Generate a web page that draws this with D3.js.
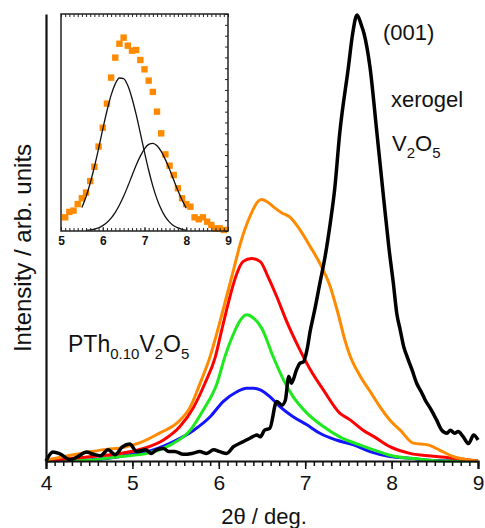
<!DOCTYPE html>
<html>
<head>
<meta charset="utf-8">
<script src="https://cdnjs.cloudflare.com/ajax/libs/d3/7.8.5/d3.min.js"></script>
<style>
  body { margin: 0; background: #fff; }
  text { font-family: "Liberation Sans", Arial, sans-serif; fill: #111; }
</style>
</head>
<body>
<div id="chart"></div>
<script>
// XRD patterns as [2theta, intensity] pairs

var xerogelPts = [[4.00,0],[4.08,2.0],[4.16,1.6],[4.28,0.3],[4.36,0.9],[4.47,2.0],[4.55,1.5],[4.63,1.2],
  [4.72,2.5],[4.80,1.4],[4.88,3.1],[4.97,3.8],[5.05,2.1],[5.15,2.5],[5.22,1.7],[5.28,2.5],[5.36,2.8],
  [5.42,2.1],[5.49,2.1],[5.59,1.5],[5.69,1.7],[5.78,2.1],[5.86,1.7],[5.94,2.5],[6.01,2.1],[6.09,1.7],
  [6.17,3.2],[6.28,4.3],[6.36,5.1],[6.44,5.8],[6.48,5.4],[6.53,6.9],[6.59,7.3],[6.67,13.3],[6.73,12.5],
  [6.77,13.6],[6.81,18.9],[6.84,17.4],[6.90,20.4],[6.94,21.9],[6.98,22.2],[7.02,24.8],[7.06,29.3],
  [7.11,33.8],[7.17,39.8],[7.23,45.7],[7.29,53.2],[7.34,60.6],[7.40,73.4],[7.50,88.1],[7.55,95.7],
  [7.60,99.8],[7.65,97.5],[7.68,95.7],[7.75,88.1],[7.83,73.4],[7.91,58.4],[7.97,47.5],[8.02,39.8],
  [8.06,33.0],[8.10,29.3],[8.14,25.6],[8.19,22.8],[8.24,20.2],[8.29,17.4],[8.34,15.6],[8.39,13.6],[8.46,11.4],
  [8.52,9.2],[8.58,6.9],[8.64,6.2],[8.68,6.9],[8.73,6.2],[8.77,6.6],[8.83,5.4],[8.89,3.9],[8.95,5.8],[9.00,4.7]];

var orangePts = [[4.00,0.2],[4.24,1.1],[4.50,2.0],[4.70,2.6],[4.86,2.9],[5.09,4.1],[5.32,6.3],[5.51,8.4],
  [5.67,12.1],[5.78,17.2],[5.90,23.4],[5.99,29.5],[6.09,36.8],[6.17,42.7],[6.25,48.7],[6.36,54.7],
  [6.46,58.2],[6.50,58.5],[6.56,58.0],[6.63,56.9],[6.73,55.5],[6.82,54.6],[6.94,51.7],[7.06,47.9],
  [7.17,44.2],[7.29,39.0],[7.38,33.0],[7.46,27.0],[7.52,23.5],[7.63,19.2],[7.75,15.6],[7.87,12.0],
  [8.00,8.7],[8.10,6.9],[8.25,4.0],[8.42,3.6],[8.56,2.4],[8.71,1.0],[8.87,0.3],[9.00,0]];

var redPts = [[4.00,0],[4.32,0.6],[4.60,1.1],[4.86,1.7],[5.13,2.8],[5.36,4.7],[5.55,7.7],[5.71,12.1],
  [5.84,17.4],[5.96,23.3],[6.03,29.0],[6.09,33.8],[6.15,38.3],[6.21,42.0],[6.28,44.6],[6.38,45.3],
  [6.48,44.6],[6.57,41.2],[6.67,36.8],[6.79,31.0],[6.94,24.8],[7.06,20.4],[7.21,15.9],[7.40,10.7],
  [7.52,9.2],[7.67,6.9],[7.80,5.4],[7.98,3.2],[8.21,1.7],[8.52,1.0],[8.83,0.4],[9.00,0]];

var greenPts = [[4.00,0],[4.50,0.2],[4.86,1.0],[5.17,1.7],[5.44,3.6],[5.67,6.9],[5.82,11.4],[5.98,17.4],
  [6.07,23.3],[6.19,29.3],[6.25,31.5],[6.32,32.7],[6.40,32.0],[6.50,29.6],[6.63,23.3],[6.75,18.1],
  [6.86,14.4],[7.02,10.7],[7.21,7.7],[7.40,5.4],[7.63,3.6],[7.79,2.5],[7.98,1.3],[8.33,0.4],[8.60,0],[9.00,0]];

var bluePts = [[4.00,0],[4.50,0.2],[4.86,1.0],[5.01,1.6],[5.24,2.5],[5.47,4.3],[5.71,6.9],[5.90,9.9],
  [6.05,13.3],[6.21,15.5],[6.32,16.3],[6.40,16.3],[6.48,15.9],[6.59,14.4],[6.71,12.1],[6.86,9.9],
  [7.02,8.1],[7.17,6.2],[7.36,4.7],[7.56,3.6],[7.75,2.1],[7.98,1.0],[8.21,0.6],[8.52,0.1],[9.00,0]];

// inset: measured points and the two fitted peaks
var insetX = [5.1,5.2,5.3,5.4,5.5,5.6,5.7,5.8,5.9,6.0,6.1,6.2,6.3,6.4,6.5,6.6,6.7,6.8,6.9,7.0,
  7.1,7.2,7.3,7.4,7.5,7.6,7.7,7.8,7.9,8.0,8.1,8.2,8.3,8.4,8.5,8.6,8.7,8.8,8.9];
var insetY = [6.3,8.8,9.4,12.4,15.1,17.7,23.0,29.6,38.9,47.6,58.7,70.7,79.9,86.3,89.1,85.4,83.1,83.4,78.8,74.5,
  69.3,64.1,55.0,45.0,35.3,30.1,25.8,19.7,15.1,12.4,11.2,6.3,5.4,6.3,4.3,2.8,1.2,1.2,0.5];

var fit1Pts = [[5.5,10.8],[5.6,15.8],[5.7,22.1],[5.8,29.6],[5.9,38.0],[6.0,46.9],[6.1,55.3],[6.2,62.6],
  [6.3,67.8],[6.4,70.5],[6.5,70.2],[6.6,67.0],[6.7,61.2],[6.8,53.7],[6.9,45.1],[7.0,36.3],[7.1,28.0],
  [7.2,20.7],[7.3,14.7],[7.4,10.0],[7.5,6.5],[7.6,4.1],[7.7,2.4],[7.8,1.4],[7.9,0.8],[8.0,0.4]];

var fit2Pts = [[5.6,0.3],[5.7,0.5],[5.8,0.9],[5.9,1.5],[6.0,2.5],[6.1,3.9],[6.2,5.9],[6.3,8.6],[6.4,12.0],
  [6.5,16.0],[6.6,20.6],[6.7,25.5],[6.8,30.3],[6.9,34.5],[7.0,37.9],[7.1,39.9],[7.2,40.4],[7.3,39.3],
  [7.4,36.7],[7.5,32.9],[7.6,28.4],[7.7,23.5],[7.8,18.7],[7.9,14.3],[8.0,10.5]];

var xTicks = [4, 5, 6, 7, 8, 9];
var insetTicks = [5, 6, 7, 8, 9];

var width = 485;
var height = 528;

var svg = d3.select("#chart")
  .append("svg")
  .attr("width", width)
  .attr("height", height);

// main scales
var xScale = d3.scaleLinear().domain([4, 9]).range([46, 478]);
var yScale = d3.scaleLinear().domain([0, 100]).range([461, 14]);

var line = d3.line()
  .x(function(d) { return xScale(d[0]); })
  .y(function(d) { return yScale(d[1]); })
  .curve(d3.curveMonotoneX);

// draw order: blue, green, red, orange, then black on top
var series = [
  { pts: bluePts, color: "#1414ff", w: 3 },
  { pts: greenPts, color: "#1ee81e", w: 3 },
  { pts: redPts, color: "#ff0000", w: 3 },
  { pts: orangePts, color: "#ff8a00", w: 3 },
  { pts: xerogelPts, color: "#000000", w: 3.5 }
];

series.forEach(function(s) {
  svg.append("path")
    .datum(s.pts)
    .attr("d", line)
    .attr("fill", "none")
    .attr("stroke", s.color)
    .attr("stroke-width", s.w)
    .attr("stroke-linejoin", "round");
});

// x axis: minor ticks every 0.1, major at integers
var minorAxis = d3.axisBottom(xScale)
  .tickValues(d3.range(40, 91).map(function(d) { return d / 10; }))
  .tickSize(5)
  .tickFormat("");
svg.append("g")
  .attr("class", "minor")
  .attr("transform", "translate(0,461)")
  .call(minorAxis);

var majorAxis = d3.axisBottom(xScale)
  .tickValues(xTicks)
  .tickSize(8)
  .tickPadding(6)
  .tickFormat(d3.format("d"));
svg.append("g")
  .attr("class", "major")
  .attr("transform", "translate(0,461)")
  .call(majorAxis);

svg.selectAll(".minor line, .major line").attr("stroke", "#111").attr("stroke-width", 1.5);
svg.selectAll(".major .domain").attr("stroke", "#111").attr("stroke-width", 2.2);
svg.selectAll(".minor .domain").remove();
svg.selectAll(".major text")
  .style("font-size", "21px")
  .style("font-family", "'Liberation Sans', Arial, sans-serif")
  .attr("fill", "#111");

// left axis line only
svg.append("g")
  .attr("transform", "translate(46,0)")
  .call(d3.axisLeft(yScale).tickValues([]).tickSizeOuter(0))
  .select(".domain")
  .attr("stroke", "#111")
  .attr("stroke-width", 2.2);

// axis titles
svg.append("text")
  .attr("x", 264)
  .attr("y", 524)
  .attr("text-anchor", "middle")
  .style("font-size", "22px")
  .text("2\u03B8 / deg.");

svg.append("text")
  .attr("transform", "translate(31,248)rotate(-90)")
  .attr("text-anchor", "middle")
  .style("font-size", "24px")
  .text("Intensity / arb. units");

// annotations
svg.append("text").attr("x", 383).attr("y", 40).style("font-size", "22px").text("(001)");
svg.append("text").attr("x", 391).attr("y", 107).style("font-size", "22px").text("xerogel");

var v2o5 = svg.append("text").attr("x", 392).attr("y", 151).style("font-size", "22px");
v2o5.append("tspan").text("V");
v2o5.append("tspan").attr("dy", 7).style("font-size", "15px").text("2");
v2o5.append("tspan").attr("dy", -7).text("O");
v2o5.append("tspan").attr("dy", 7).style("font-size", "15px").text("5");

var pth = svg.append("text").attr("x", 68).attr("y", 352).style("font-size", "23px");
pth.append("tspan").text("PTh");
pth.append("tspan").attr("dy", 7).style("font-size", "15px").text("0.10");
pth.append("tspan").attr("dy", -7).text("V");
pth.append("tspan").attr("dy", 7).style("font-size", "15px").text("2");
pth.append("tspan").attr("dy", -7).text("O");
pth.append("tspan").attr("dy", 7).style("font-size", "15px").text("5");

// ---- inset ----
var ix = d3.scaleLinear().domain([5, 9]).range([61, 228]);
var iy = d3.scaleLinear().domain([0, 100]).range([231, 14]);

var inset = svg.append("g").attr("class", "inset");

inset.append("rect")
  .attr("x", 61).attr("y", 14)
  .attr("width", 228 - 61).attr("height", 231 - 14)
  .attr("fill", "#fff");

var insetPts = insetX.map(function(x, i) { return [x, insetY[i]]; });
inset.selectAll("rect.pt")
  .data(insetPts)
  .enter()
  .append("rect")
  .attr("class", "pt")
  .attr("x", function(d) { return ix(d[0]) - 3.2; })
  .attr("y", function(d) { return iy(d[1]) - 3.2; })
  .attr("width", 6.4)
  .attr("height", 6.4)
  .attr("fill", "#ff8a00");

var iline = d3.line()
  .x(function(d) { return ix(d[0]); })
  .y(function(d) { return iy(d[1]); })
  .curve(d3.curveMonotoneX);

[fit1Pts, fit2Pts].forEach(function(p) {
  inset.append("path")
    .datum(p)
    .attr("d", iline)
    .attr("fill", "none")
    .attr("stroke", "#111")
    .attr("stroke-width", 1.3);
});

var iMinor = d3.range(50, 91).map(function(d) { return d / 10; });

inset.append("g")
  .attr("class", "ib")
  .attr("transform", "translate(0,231)")
  .call(d3.axisBottom(ix).tickValues(iMinor).tickSize(-3).tickFormat(""));
inset.append("g")
  .attr("class", "ib")
  .attr("transform", "translate(0,231)")
  .call(d3.axisBottom(ix).tickValues(insetTicks).tickSize(-4).tickPadding(5).tickFormat(d3.format("d")));
inset.append("g")
  .attr("class", "ib")
  .attr("transform", "translate(0,14)")
  .call(d3.axisTop(ix).tickValues(iMinor).tickSize(-3).tickFormat(""));
inset.append("g")
  .attr("class", "ib")
  .attr("transform", "translate(228,0)")
  .call(d3.axisRight(iy).tickValues(d3.range(0, 101, 5)).tickSize(-3).tickFormat(""));

inset.selectAll(".ib .domain").remove();
inset.selectAll(".ib line").attr("stroke", "#222").attr("stroke-width", 1);
inset.selectAll(".ib text")
  .style("font-size", "12px")
  .style("font-weight", "bold")
  .style("font-family", "'Liberation Sans', Arial, sans-serif")
  .attr("fill", "#222");

inset.append("rect")
  .attr("x", 61).attr("y", 14)
  .attr("width", 228 - 61).attr("height", 231 - 14)
  .attr("fill", "none")
  .attr("stroke", "#222")
  .attr("stroke-width", 1.5);
</script>
</body>
</html>
